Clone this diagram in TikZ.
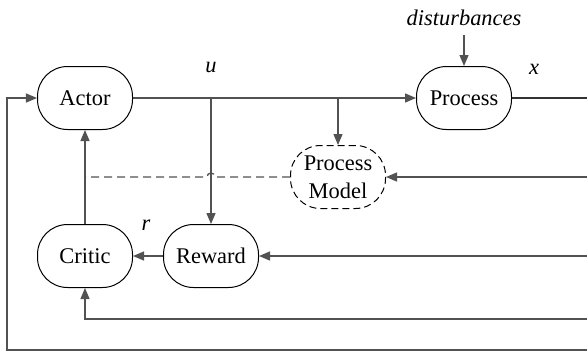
\documentclass[tikz,border=0pt]{standalone}
\usepackage{fontspec}
\setmainfont{Liberation Serif}
\usetikzlibrary{arrows.meta}
\begin{document}
\begin{tikzpicture}[x=1bp,y=-1bp,
    blk/.style={draw=black,line width=1bp,rounded corners=30bp,minimum width=95bp,minimum height=63bp,inner sep=0pt,align=center,font=\fontsize{22.5}{28}\selectfont},
    ln/.style={draw=black!68,line width=1.3bp},
    arr/.style={ln,-{Triangle[length=11bp,width=9bp]}},
    lbl/.style={font=\fontsize{22.5}{24}\selectfont\itshape,inner sep=0pt}]
  \useasboundingbox (0,0) rectangle (587,351);
  %blocks
  \node [blk] (actor) at (85,98) {Actor};
  \node [blk] (proc) at (464,98) {Process};
  \node [blk,dash pattern=on 7bp off 4bp] (model) at (338,177) {Process\\Model};
  \node [blk] (critic) at (85,256) {Critic};
  \node [blk] (reward) at (211,256) {Reward};
  %labels
  \node [lbl] (dist) at (464,18) {disturbances};
  \node [lbl] (ulab) at (211,67) {u};
  \node [lbl] (xlab) at (534,69) {x};
  \node [lbl] (rlab) at (146,225) {r};
  %branch points and edge points
  \coordinate (ub) at (211,98);
  \coordinate (mb) at (338,98);
  \coordinate (xout) at (587,98);
  \coordinate (min) at (587,177);
  \coordinate (rin) at (587,256);
  \coordinate (cin) at (587,319);
  \coordinate (ain) at (587,350);
  \coordinate (ll) at (7,350);
  \coordinate (ca) at (85,177);
  \draw [arr] (actor) -- (proc);
  \draw [ln,draw=black!80] (proc) -- (xout);
  \draw [arr,shorten <=9bp] (dist) -- (proc);
  \draw [arr] (ub) -- (reward);
  \draw [arr] (mb) -- (model);
  \draw [arr] (min) -- (model);
  \draw [arr] (rin) -- (reward);
  \draw [arr] (reward) -- (critic);
  \draw [arr] (critic) -- (actor);
  \draw [arr] (cin) -| (critic);
  \draw [arr] (ain) -- (ll) |- (actor);
  \draw [ln,dash pattern=on 8bp off 5bp] (model.west) -- (215,177) arc [start angle=0,end angle=-180,radius=4] -- (ca);
\end{tikzpicture}
\end{document}
